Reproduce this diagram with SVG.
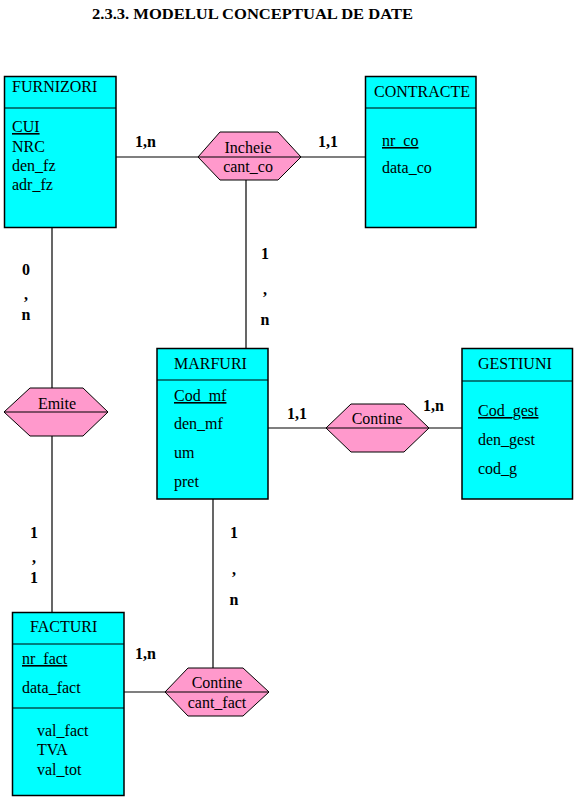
<svg xmlns="http://www.w3.org/2000/svg" width="574" height="797" viewBox="0 0 574 797" font-family="'Liberation Serif', 'DejaVu Serif', serif">
<style>
text{font-family:'Liberation Serif','DejaVu Serif',serif;fill:#000}
.ent{fill:#00FFFF;stroke:#000;stroke-width:1.5}
.rel{fill:#FF99CC;stroke:#000;stroke-width:1}
.sep{stroke:#000;stroke-width:1.2}
.t{font-size:16px}
.c{font-size:16px;font-weight:bold}
.m{text-anchor:middle}
.u{text-decoration:underline}
.conn line{stroke:#000;stroke-width:1.2}
</style>
<rect width="574" height="797" fill="#fff"/>
<text x="92" y="19" font-size="14" font-weight="bold" textLength="321" lengthAdjust="spacingAndGlyphs">2.3.3. MODELUL CONCEPTUAL DE DATE</text>
<g id="connectors" class="conn">
<line x1="116" y1="157" x2="198" y2="157"/>
<line x1="301" y1="157" x2="365" y2="157"/>
<line x1="246" y1="180" x2="246" y2="348"/>
<line x1="52" y1="228" x2="52" y2="388"/>
<line x1="52" y1="436" x2="52" y2="612"/>
<line x1="268" y1="428" x2="326" y2="428"/>
<line x1="429" y1="428" x2="462" y2="428"/>
<line x1="213" y1="499" x2="213" y2="668"/>
<line x1="124" y1="692" x2="165" y2="692"/>
</g>
<g id="cardinalities" class="c">
<text x="135" y="147">1,n</text>
<text x="318" y="147">1,1</text>
<text x="265" y="259" class="m">1</text>
<text x="265" y="295" class="m">,</text>
<text x="265" y="325" class="m">n</text>
<text x="26" y="275" class="m">0</text>
<text x="26" y="300" class="m">,</text>
<text x="26" y="320" class="m">n</text>
<text x="287" y="419">1,1</text>
<text x="423" y="411">1,n</text>
<text x="34" y="538" class="m">1</text>
<text x="34" y="563" class="m">,</text>
<text x="34" y="583" class="m">1</text>
<text x="234" y="538" class="m">1</text>
<text x="234" y="575" class="m">,</text>
<text x="234" y="605" class="m">n</text>
<text x="135" y="659">1,n</text>
</g>
<g id="FURNIZORI">
<rect class="ent" x="4.5" y="76.5" width="111.5" height="151"/>
<line class="sep" x1="4.5" y1="108" x2="116" y2="108"/>
<text class="t" x="12" y="92">FURNIZORI</text>
<text class="t u" x="12" y="132">CUI</text>
<text class="t" x="12" y="152">NRC</text>
<text class="t" x="12" y="171">den_fz</text>
<text class="t" x="12" y="190">adr_fz</text>
</g>
<g id="CONTRACTE">
<rect class="ent" x="365.5" y="76.5" width="110.5" height="151"/>
<line class="sep" x1="365.5" y1="108" x2="476" y2="108"/>
<text class="t" x="374" y="97">CONTRACTE</text>
<text class="t u" x="382" y="146">nr_co</text>
<text class="t" x="382" y="173">data_co</text>
</g>
<g id="Incheie">
<polygon class="rel" points="198,157 220,132 278,132 301,157 278,180 220,180"/>
<line class="sep" x1="198" y1="157" x2="301" y2="157"/>
<text class="t m" x="248" y="153">Incheie</text>
<text class="t m" x="248" y="172">cant_co</text>
</g>
<g id="Emite">
<polygon class="rel" points="4,412 30,388 83,388 108,412 83,436 30,436"/>
<line class="sep" x1="4" y1="412" x2="108" y2="412"/>
<text class="t m" x="57" y="409">Emite</text>
</g>
<g id="MARFURI">
<rect class="ent" x="157" y="348.5" width="111" height="150.5"/>
<line class="sep" x1="157" y1="380" x2="268" y2="380"/>
<text class="t" x="174" y="369">MARFURI</text>
<text class="t u" x="174" y="401">Cod_mf</text>
<text class="t" x="174" y="429">den_mf</text>
<text class="t" x="174" y="458">um</text>
<text class="t" x="174" y="487">pret</text>
</g>
<g id="Contine_gest">
<polygon class="rel" points="326,428 351,404 404,404 429,428 404,452 351,452"/>
<line class="sep" x1="326" y1="428" x2="429" y2="428"/>
<text class="t m" x="377" y="424">Contine</text>
</g>
<g id="GESTIUNI">
<rect class="ent" x="462" y="348.5" width="110.5" height="150.5"/>
<line class="sep" x1="462" y1="381" x2="572.5" y2="381"/>
<text class="t" x="478" y="369">GESTIUNI</text>
<text class="t u" x="478" y="416">Cod_gest</text>
<text class="t" x="478" y="445">den_gest</text>
<text class="t" x="478" y="474">cod_g</text>
</g>
<g id="Contine_fact">
<polygon class="rel" points="165,692 188,668 243,668 269,692 243,716 188,716"/>
<line class="sep" x1="165" y1="692" x2="269" y2="692"/>
<text class="t m" x="217" y="688">Contine</text>
<text class="t m" x="217" y="708">cant_fact</text>
</g>
<g id="FACTURI">
<rect class="ent" x="12.5" y="612.5" width="111.5" height="183"/>
<line class="sep" x1="12.5" y1="644" x2="124" y2="644"/>
<line class="sep" x1="12.5" y1="708" x2="124" y2="708"/>
<text class="t" x="30" y="632">FACTURI</text>
<text class="t u" x="22" y="664">nr_fact</text>
<text class="t" x="22" y="693">data_fact</text>
<text class="t" x="37" y="736">val_fact</text>
<text class="t" x="37" y="755">TVA</text>
<text class="t" x="37" y="775">val_tot</text>
</g>
</svg>
